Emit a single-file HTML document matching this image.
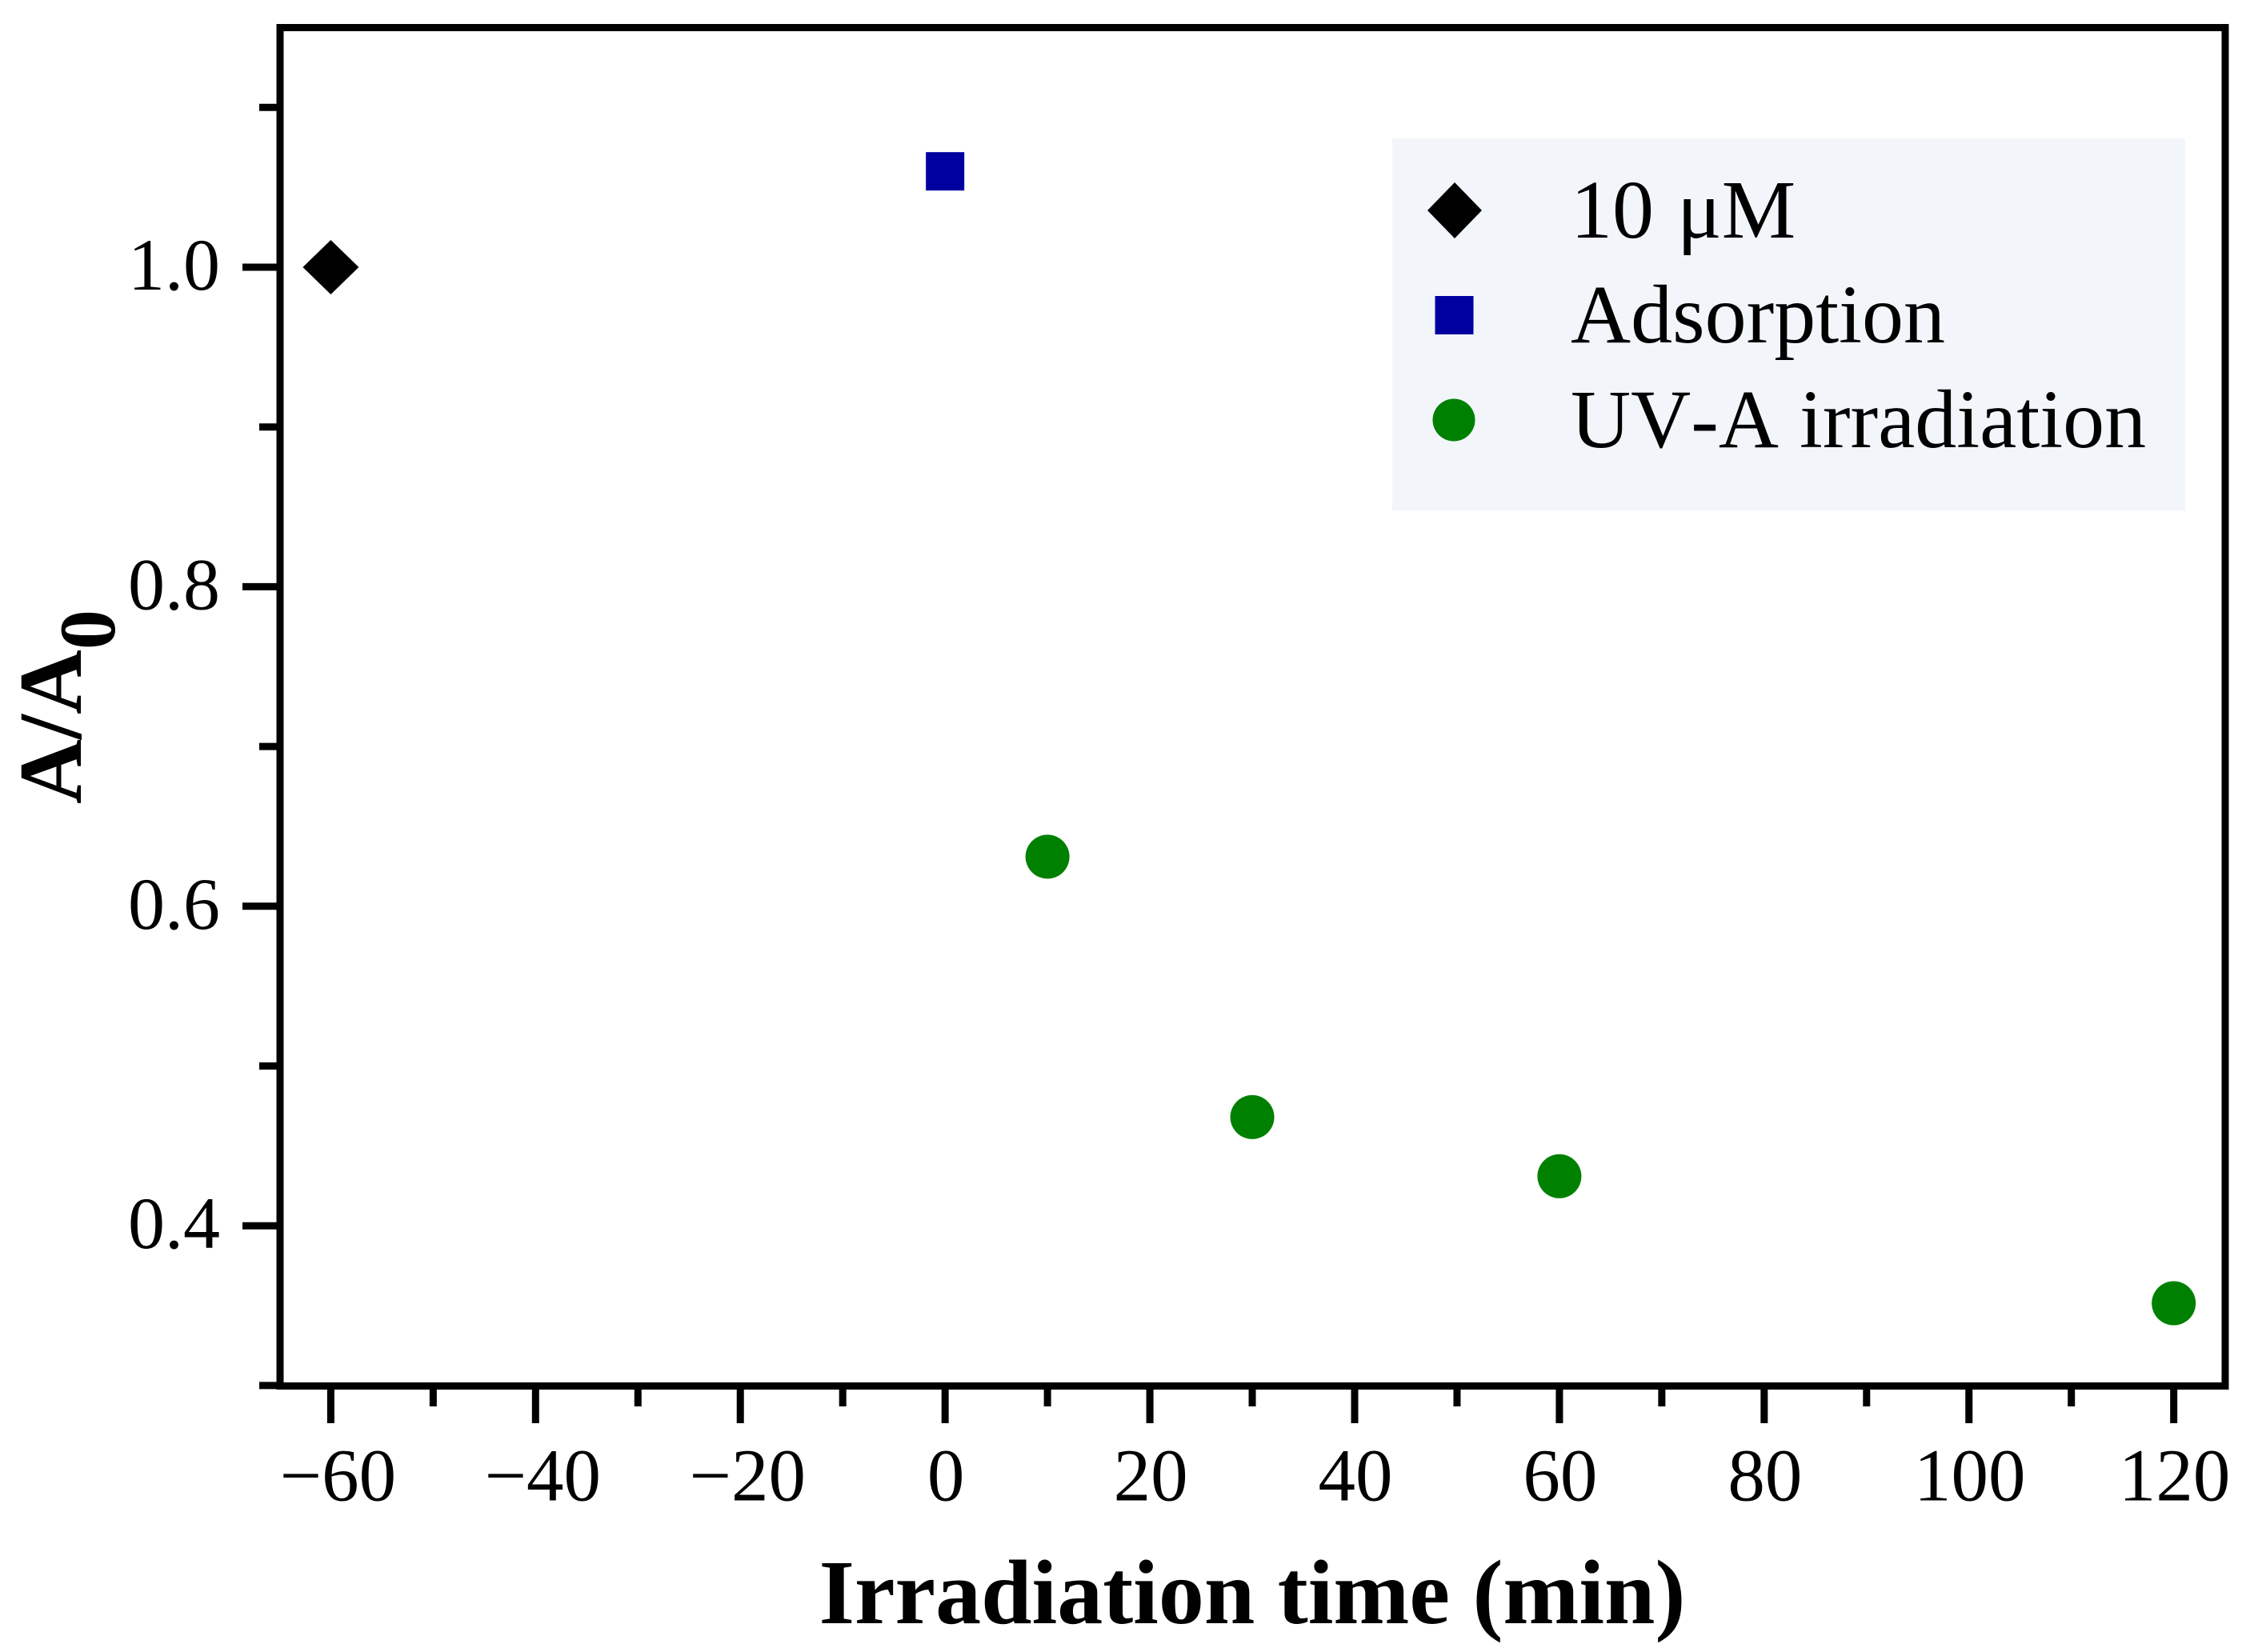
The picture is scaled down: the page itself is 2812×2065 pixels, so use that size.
<!DOCTYPE html>
<html lang="en">
<head>
<meta charset="utf-8">
<title>Irradiation time chart</title>
<style>
html,body{margin:0;padding:0;background:#fff;}
svg{display:block;}
text{font-family:"Liberation Serif","Times New Roman",serif;fill:#000;}
</style>
</head>
<body>
<svg id="chart" xmlns="http://www.w3.org/2000/svg" width="2812" height="2065" viewBox="0 0 2812 2065">
  <rect x="0" y="0" width="2812" height="2065" fill="#ffffff"/>
  <g id="ticks"></g>
  <g id="tick-labels"></g>
  <rect x="350" y="34.5" width="2431" height="1698" fill="none" stroke="#000" stroke-width="9"/>
  <g id="marks"></g>

  <g>
    <rect x="1740" y="173" width="991" height="465" fill="#f2f6fb"/>
    <polygon points="1818,228 1852,263 1818,298 1784,263" fill="#000"/>
    <rect x="1793.5" y="370" width="48" height="48" fill="#0000a0"/>
    <circle cx="1817" cy="525" r="26.5" fill="#008000"/>
    <text x="1963" y="297" font-size="104" xml:space="preserve">10 <tspan dx="3">μM</tspan></text>
    <text x="1963" y="428" font-size="104">Adsorption</text>
    <text x="1963" y="559" font-size="104" style="font-kerning:none">UV-A irradiation</text>
  </g>

  <text x="1565" y="2029" font-size="114" font-weight="bold" text-anchor="middle">Irradiation time (min)</text>
  <text transform="translate(101,1005) rotate(-90)" font-size="112" font-weight="bold">A/A<tspan font-size="100" dy="42">0</tspan></text>
</svg>
<script>
const xMajorTicks = [-60, -40, -20, 0, 20, 40, 60, 80, 100, 120];
const xMinorTicks = [-50, -30, -10, 10, 30, 50, 70, 90, 110];
const xTickLabels = ["\u221260", "\u221240", "\u221220", "0", "20", "40", "60", "80", "100", "120"];
const yMajorTicks = [0.4, 0.6, 0.8, 1.0];
const yMinorTicks = [0.3, 0.5, 0.7, 0.9, 1.1];
const yTickLabels = ["0.4", "0.6", "0.8", "1.0"];
const initialX = [-60];
const initialY = [1.0];
const adsorptionX = [0];
const adsorptionY = [1.06];
const uvaX = [10, 30, 60, 120];
const uvaY = [0.631, 0.468, 0.431, 0.3515];

const SVGNS = "http://www.w3.org/2000/svg";
function xScale(v) { return 413.4 + (v + 60) * 12.796; }
function yScale(v) { return 334 + (1 - v) * 1997; }
function make(tag, parent) {
  const el = document.createElementNS(SVGNS, tag);
  parent.appendChild(el);
  return el;
}
const tickGroup = document.getElementById("ticks");
const labelGroup = document.getElementById("tick-labels");
const markGroup = document.getElementById("marks");

function vLine(x, y1, y2) {
  const l = make("line", tickGroup);
  l.setAttribute("x1", x);
  l.setAttribute("x2", x);
  l.setAttribute("y1", y1);
  l.setAttribute("y2", y2);
  l.setAttribute("stroke", "#000");
  l.setAttribute("stroke-width", 9);
  return l;
}
function hLine(y, x1, x2) {
  const l = make("line", tickGroup);
  l.setAttribute("x1", x1);
  l.setAttribute("x2", x2);
  l.setAttribute("y1", y);
  l.setAttribute("y2", y);
  l.setAttribute("stroke", "#000");
  l.setAttribute("stroke-width", 9);
  return l;
}

xMajorTicks.forEach(function (v, i) {
  const t = vLine(xScale(v), 1732, 1779);
  
  
  const label = make("text", labelGroup);
  
  
  label.setAttribute("x", xScale(v) + (v < 0 ? 9 : 1));
  label.setAttribute("y", 1875.5);
  label.setAttribute("font-size", 93);
  label.setAttribute("text-anchor", "middle");
  label.textContent = xTickLabels[i];
});
xMinorTicks.forEach(function (v) {
  const t = vLine(xScale(v), 1732, 1758);
  
  
});
yMajorTicks.forEach(function (v, i) {
  const t = hLine(yScale(v), 303, 350);
  
  
  const label = make("text", labelGroup);
  
  
  label.setAttribute("x", 275);
  label.setAttribute("y", yScale(v) + 28);
  label.setAttribute("font-size", 92);
  label.setAttribute("text-anchor", "end");
  label.textContent = yTickLabels[i];
});
yMinorTicks.forEach(function (v) {
  const t = hLine(yScale(v), 324, 350);
  
  
});

initialX.forEach(function (v, i) {
  const cx = xScale(v), cy = yScale(initialY[i]);
  const d = make("polygon", markGroup);
  
  
  d.setAttribute("points", [cx, cy - 34, cx + 35, cy, cx, cy + 34, cx - 35, cy].join(" "));
  d.setAttribute("fill", "#000");
});
adsorptionX.forEach(function (v, i) {
  const s = make("rect", markGroup);
  
  
  s.setAttribute("x", xScale(v) - 24);
  s.setAttribute("y", yScale(adsorptionY[i]) - 24);
  s.setAttribute("width", 48);
  s.setAttribute("height", 48);
  s.setAttribute("fill", "#0000a0");
});
uvaX.forEach(function (v, i) {
  const c = make("circle", markGroup);
  
  
  c.setAttribute("cx", xScale(v));
  c.setAttribute("cy", yScale(uvaY[i]));
  c.setAttribute("r", 27.5);
  c.setAttribute("fill", "#008000");
});
</script>
</body>
</html>
